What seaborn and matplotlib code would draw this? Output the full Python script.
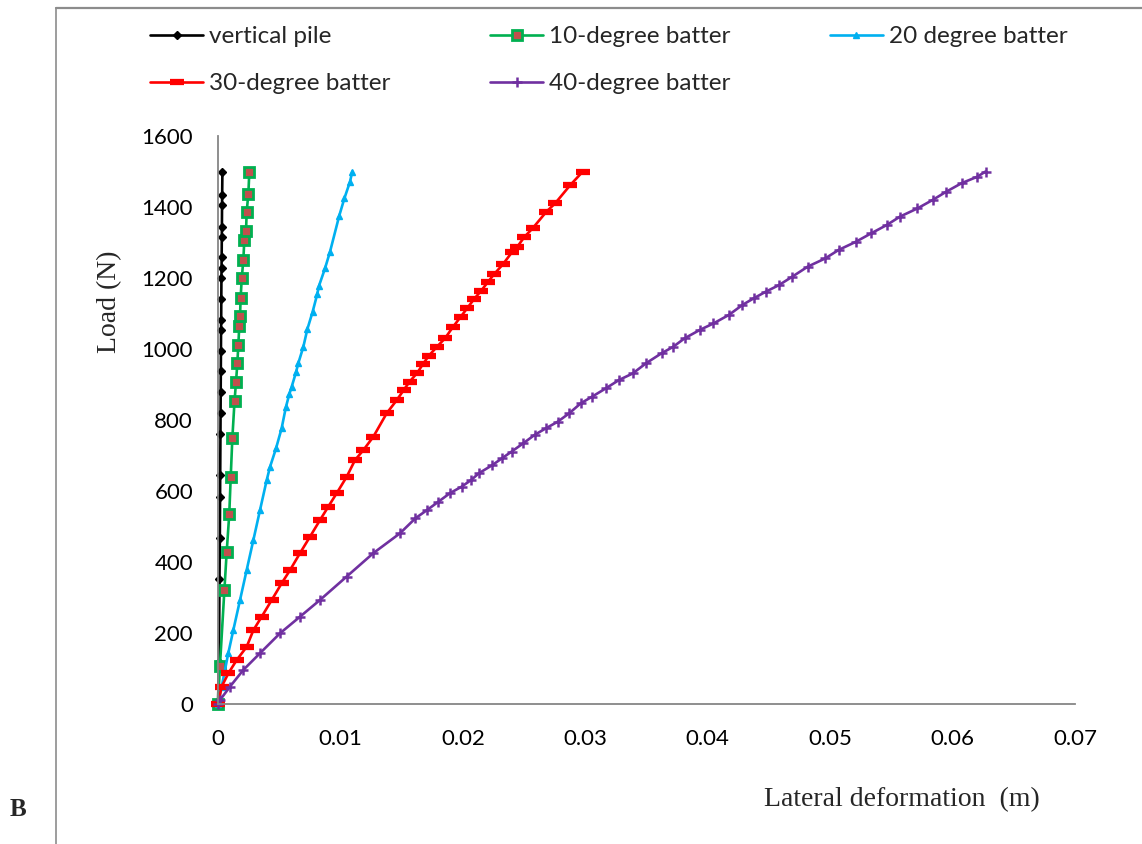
import matplotlib
matplotlib.use('Agg')
import matplotlib.pyplot as plt
import seaborn as sns
from matplotlib.lines import Line2D

# ---------------- data ----------------
vp_load = [0, 119, 352, 468, 584, 645, 760, 819, 880, 939, 995, 1054, 1082, 1141,
           1199, 1229, 1258, 1316, 1345, 1406, 1434, 1500]
vp_def = [0, 0.00008, 0.00012, 0.00015, 0.00017, 0.00018, 0.0002, 0.00021, 0.00022,
          0.00023, 0.00024, 0.00025, 0.00026, 0.00027, 0.00028, 0.00029, 0.0003,
          0.00031, 0.00032, 0.00033, 0.00034, 0.00036]

b10_load = [0, 108, 320, 428, 535, 640, 748, 853, 906, 960, 1011, 1066, 1093, 1145,
            1199, 1251, 1307, 1332, 1385, 1438, 1500]
b10_def = [0, 0.00016, 0.00052, 0.00071, 0.00092, 0.00104, 0.00117, 0.00135, 0.00147,
           0.00158, 0.00166, 0.00174, 0.0018, 0.00185, 0.00194, 0.00207, 0.00215,
           0.00229, 0.00234, 0.00248, 0.00256]

b20_load = [0, 49, 143, 208, 293, 377, 462, 546, 631, 668, 720, 777, 837, 872, 894,
            934, 960, 1006, 1056, 1105, 1155, 1178, 1227, 1274, 1375, 1424, 1471, 1500]
b20_def = [0, 0.0003, 0.00084, 0.00125, 0.0018, 0.00234, 0.00289, 0.00343, 0.00398,
           0.00425, 0.00474, 0.0052, 0.00555, 0.00582, 0.00602, 0.00637, 0.00656,
           0.00697, 0.0073, 0.00773, 0.00811, 0.00825, 0.00874, 0.00915, 0.0099,
           0.01032, 0.01078, 0.01097]

b30_load = [0, 49, 86, 124, 161, 208, 246, 293, 340, 377, 425, 471, 518, 556, 594, 640,
            687, 715, 753, 819, 856, 885, 908, 933, 958, 981, 1005, 1030, 1061, 1091,
            1115, 1140, 1163, 1188, 1211, 1239, 1274, 1288, 1315, 1340, 1387, 1410,
            1462, 1500]
b30_def = [0, 0.0003, 0.00084, 0.00153, 0.00234, 0.00289, 0.00357, 0.00439, 0.0052,
           0.00588, 0.0067, 0.00751, 0.00833, 0.00901, 0.0097, 0.01051, 0.01119,
           0.01187, 0.01269, 0.01378, 0.0146, 0.01518, 0.01565, 0.01628, 0.01675,
           0.01722, 0.01785, 0.01854, 0.01917, 0.01983, 0.02036, 0.0209, 0.02147,
           0.02203, 0.02256, 0.02328, 0.02404, 0.02445, 0.02501, 0.0257, 0.02683,
           0.02753, 0.02878, 0.0298]

b40_load = [0, 11, 49, 96, 143, 199, 246, 293, 359, 425, 481, 523, 546, 570, 594, 612,
            631, 650, 673, 692, 711, 734, 758, 777, 795, 819, 847, 866, 889, 913, 931,
            960, 988, 1006, 1030, 1054, 1072, 1096, 1124, 1143, 1161, 1180, 1204, 1232,
            1255, 1279, 1302, 1326, 1349, 1373, 1396, 1420, 1443, 1467, 1485, 1500]
b40_def = [0, 0.00016, 0.00098, 0.00207, 0.00343, 0.00506, 0.0067, 0.00833, 0.01051,
           0.01269, 0.01487, 0.01612, 0.01706, 0.01801, 0.01895, 0.01989, 0.02068,
           0.02131, 0.02241, 0.02319, 0.02398, 0.02492, 0.02586, 0.0268, 0.02774,
           0.02869, 0.02963, 0.03057, 0.03167, 0.03277, 0.03387, 0.03497, 0.03623,
           0.03717, 0.03811, 0.03937, 0.04047, 0.04173, 0.04283, 0.04377, 0.04472,
           0.04582, 0.04692, 0.04817, 0.04959, 0.05069, 0.0521, 0.05336, 0.05461,
           0.05571, 0.05713, 0.05838, 0.05948, 0.06073, 0.062, 0.0627]

series_names = ["vertical pile", "10-degree batter", "20 degree batter",
                "30-degree batter", "40-degree batter"]
x_ticks = [0, 0.01, 0.02, 0.03, 0.04, 0.05, 0.06, 0.07]
x_ticklabels = ["0", "0.01", "0.02", "0.03", "0.04", "0.05", "0.06", "0.07"]
y_ticks = [0, 200, 400, 600, 800, 1000, 1200, 1400, 1600]

# ---------------- styling ----------------
sns.set_theme(style='white')
plt.rcParams['font.family'] = ['Lato', 'DejaVu Sans']
GREY = '#868686'

styles = [
    dict(color='black', marker='D', markersize=4, markerfacecolor='black',
         markeredgecolor='black', markeredgewidth=1.0),
    dict(color='#00B050', marker='s', markersize=7, markerfacecolor='#C0504D',
         markeredgecolor='#00B050', markeredgewidth=2.0),
    dict(color='#00B0F0', marker='^', markersize=5, markerfacecolor='#00B0F0',
         markeredgecolor='#00B0F0', markeredgewidth=1.0),
    dict(color='#FF0000', marker='_', markersize=10, markerfacecolor='#FF0000',
         markeredgecolor='#FF0000', markeredgewidth=4.5),
    dict(color='#7030A0', marker='+', markersize=7, markerfacecolor='#7030A0',
         markeredgecolor='#7030A0', markeredgewidth=1.8),
]
data = [(vp_def, vp_load), (b10_def, b10_load), (b20_def, b20_load),
        (b30_def, b30_load), (b40_def, b40_load)]

W, H = 1142, 844
fig = plt.figure(figsize=(W / 100, H / 100), dpi=100)
ax = fig.add_axes([218 / W, 1 - 704 / H, (1075 - 218) / W, (704 - 136) / H])

handles = []
for (xs, ys), st, name in zip(data, styles, series_names):
    sns.lineplot(x=xs, y=ys, ax=ax, sort=False, estimator=None, linewidth=1.9,
                 legend=False, clip_on=False, **st)
    handles.append(Line2D([], [], linewidth=1.9, label=name, **st))

ax.set_xlim(0, 0.07)
ax.set_ylim(0, 1600)
ax.set_xticks(x_ticks)
ax.set_xticklabels(x_ticklabels)
ax.set_yticks(y_ticks)
ax.set_xlabel('')
ax.set_ylabel('')
for s in ['top', 'right']:
    ax.spines[s].set_visible(False)
for s in ['left', 'bottom']:
    ax.spines[s].set_color(GREY)
    ax.spines[s].set_linewidth(1.3)
ax.tick_params(axis='both', direction='out', length=6, width=1.3, color=GREY,
               labelsize=16, labelcolor='black')
ax.tick_params(axis='x', pad=12)
ax.tick_params(axis='y', pad=12)
ax.grid(False)

# legend, row-major order
order = [0, 3, 1, 4, 2]
leg = fig.legend([handles[i] for i in order], [series_names[i] for i in order],
                 loc='upper left', bbox_to_anchor=(150 / W, 1 - 26 / H), ncol=3,
                 frameon=False, fontsize=17.5, handlelength=2.2, handletextpad=0.22,
                 columnspacing=4.1, labelspacing=1.07, borderpad=0, borderaxespad=0)

serif = ['Liberation Serif', 'DejaVu Serif']
fig.text(110 / W, 1 - 302 / H, 'Load (N)', rotation=90, family=serif, fontsize=20,
         ha='center', va='center')
fig.text(902 / W, 1 - 800 / H, 'Lateral deformation  (m)', family=serif, fontsize=20,
         ha='center', va='center')
fig.text(10 / W, 1 - 810 / H, 'B', family=serif, fontsize=18, fontweight='bold',
         ha='left', va='center')

# outer frame (top and left edges visible)
fig.add_artist(Line2D([56 / W, 1], [1 - 8 / H, 1 - 8 / H], transform=fig.transFigure,
                      color='#8c8c8c', linewidth=1.6))
fig.add_artist(Line2D([56 / W, 56 / W], [0, 1 - 8 / H], transform=fig.transFigure,
                      color='#8c8c8c', linewidth=1.2))

fig.savefig('out.png', dpi=100)
